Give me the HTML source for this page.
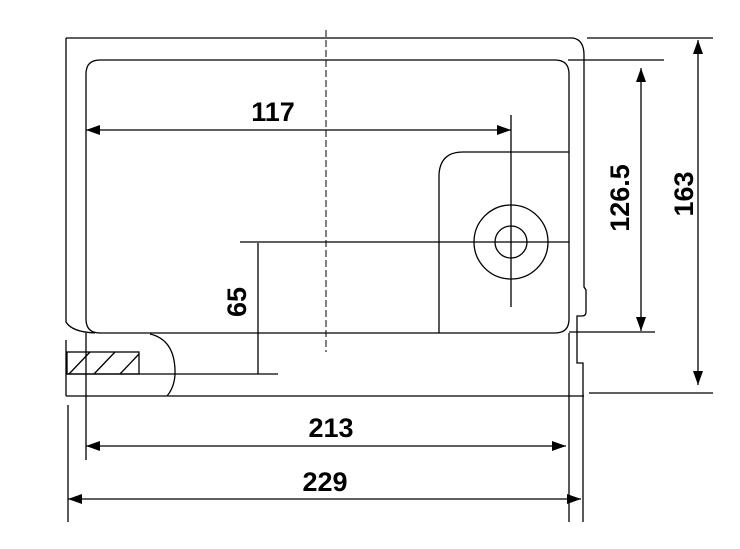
<!DOCTYPE html>
<html><head><style>body{margin:0;background:#fff}svg{display:block}</style></head><body>
<svg width="740" height="549" viewBox="0 0 740 549" xmlns="http://www.w3.org/2000/svg">
<defs>
<marker id="a" viewBox="0 0 14 10" refX="14" refY="5" markerWidth="14" markerHeight="10" markerUnits="userSpaceOnUse" orient="auto-start-reverse"><path d="M0,0L14,5L0,10z" fill="#000"/></marker>
</defs>
<g fill="none" stroke="#000" stroke-width="1.3">
<path d="M66,38 H573 Q584,40 584,55 V287 L586,290 V312 Q586,316 582,316 H577 V363 H583 V522"/>
<path d="M66,38 V322 Q72,332 95,333"/>
<line x1="66" y1="396" x2="66" y2="340"/>
<path d="M100,60 H555 Q569,60 569,74 V319 Q569,333 555,333 H100 Q86,333 86,319 V74 Q86,60 100,60 Z"/>
<path d="M569,152 H463 Q440,152 439,175 V333"/>
<circle cx="511" cy="242" r="37"/>
<circle cx="511" cy="242" r="16"/>
<line x1="511" y1="115" x2="511" y2="307"/>
<line x1="240" y1="242" x2="569" y2="242"/>
<line x1="326" y1="30" x2="326" y2="352" stroke-dasharray="7,3" stroke-width="1"/>
<path d="M150,334 Q176,340 175,375 Q174,388 167,396"/>
<rect x="67" y="352" width="72" height="22"/>
<line x1="69" y1="374" x2="90" y2="352"/><line x1="94" y1="374" x2="115" y2="352"/><line x1="120" y1="374" x2="139" y2="354"/>
<line x1="66" y1="374" x2="278" y2="374"/>
<line x1="66" y1="396" x2="584" y2="396"/>
<line x1="569" y1="333" x2="569" y2="522"/>
<line x1="258" y1="243" x2="258" y2="374"/>
<line x1="587" y1="38" x2="713" y2="38"/>
<line x1="589" y1="393" x2="713" y2="393"/>
<line x1="568" y1="60" x2="664" y2="60"/>
<line x1="569" y1="332" x2="655" y2="332"/>
<line x1="86" y1="333" x2="86" y2="460"/>
<line x1="68" y1="405" x2="68" y2="522"/>
<line x1="86" y1="130" x2="511" y2="130" marker-start="url(#a)" marker-end="url(#a)"/>
<line x1="86" y1="446" x2="566" y2="446" marker-start="url(#a)" marker-end="url(#a)"/>
<line x1="68" y1="499" x2="581" y2="499" marker-start="url(#a)" marker-end="url(#a)"/>
<line x1="641" y1="68" x2="641" y2="331" marker-start="url(#a)" marker-end="url(#a)"/>
<line x1="698" y1="40" x2="698" y2="385" marker-start="url(#a)" marker-end="url(#a)"/>
</g>
<g font-family="Liberation Sans, sans-serif" font-size="27" font-weight="bold" fill="#000" text-anchor="middle">
<text x="273" y="121">117</text>
<text x="331" y="437">213</text>
<text x="325" y="491">229</text>
<text transform="translate(246,302) rotate(-90)">65</text>
<text transform="translate(629,198) rotate(-90)">126.5</text>
<text transform="translate(693,194) rotate(-90)">163</text>
</g>
</svg>
</body></html>
